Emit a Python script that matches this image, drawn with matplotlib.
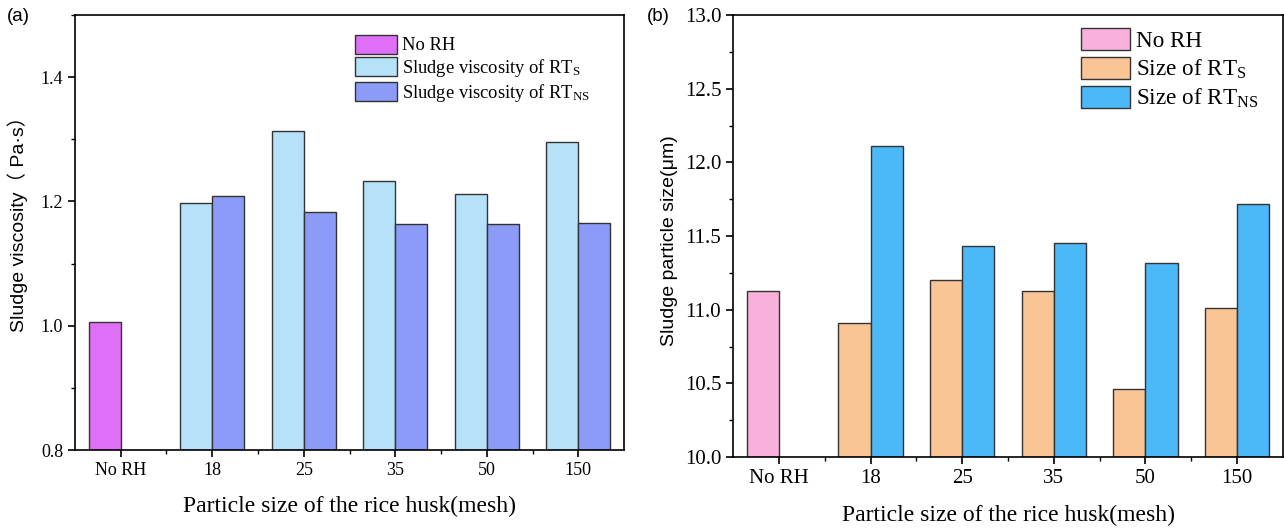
import matplotlib
matplotlib.use('Agg')
import matplotlib.pyplot as plt
import numpy as np
from matplotlib.ticker import MultipleLocator, FixedLocator

plt.rcParams['font.family'] = ['Liberation Serif', 'Noto Sans CJK SC', 'DejaVu Sans']
plt.rcParams['mathtext.fontset'] = 'custom'
plt.rcParams['mathtext.rm'] = 'Liberation Serif'
plt.rcParams['mathtext.it'] = 'Liberation Serif:italic'

categories = ['No RH', '18', '25', '35', '50', '150']

# (a) sludge viscosity, Pa·s
visc_no_rh = 1.006
visc_rt_s = [1.198, 1.313, 1.233, 1.212, 1.296]
visc_rt_ns = [1.209, 1.183, 1.163, 1.164, 1.165]

# (b) sludge particle size, um
size_no_rh = 11.13
size_rt_s = [10.91, 11.20, 11.13, 10.46, 11.01]
size_rt_ns = [12.11, 11.43, 11.45, 11.32, 11.72]

W = 0.35
SANS = ['Liberation Sans', 'Noto Sans CJK SC', 'DejaVu Sans']


def draw_panel(ax, no_rh, rt_s, rt_ns, colors, labels, ylim, major, ylabel,
               fs_tick, fs_leg, leg_pos, hlen, hhei, lspace, ylab_y):
    x = np.arange(len(categories))
    bottom = ylim[0]
    ax.bar(0 - W / 2, no_rh - bottom, W, bottom=bottom, color=colors[0],
           edgecolor='#333333', linewidth=1.0, label=labels[0])
    ax.bar(x[1:] - W / 2, np.array(rt_s) - bottom, W, bottom=bottom, color=colors[1],
           edgecolor='#333333', linewidth=1.0, label=labels[1])
    ax.bar(x[1:] + W / 2, np.array(rt_ns) - bottom, W, bottom=bottom, color=colors[2],
           edgecolor='#333333', linewidth=1.0, label=labels[2])
    ax.set_xlim(-0.5, 5.5)
    ax.set_ylim(*ylim)
    ax.set_xticks(x)
    ax.set_xticklabels(categories)
    ax.xaxis.set_minor_locator(FixedLocator(x[:-1] + 0.5))
    ax.yaxis.set_major_locator(MultipleLocator(major))
    ax.yaxis.set_minor_locator(MultipleLocator(major / 2))
    ax.tick_params(direction='out', length=5, width=1.2, labelsize=fs_tick)
    ax.tick_params(which='minor', direction='out', length=3, width=1.0)
    for s in ax.spines.values():
        s.set_linewidth(1.2)
    ax.set_xlabel('Particle size of the rice husk(mesh)', fontsize=17, labelpad=12)
    ax.set_ylabel(ylabel, fontsize=14, family=SANS)
    ax.yaxis.set_label_coords(-0.085 if fs_tick < 14 else -0.1, ylab_y)
    ax.legend(loc='upper left', bbox_to_anchor=leg_pos, frameon=False, fontsize=fs_leg,
              handlelength=hlen, handleheight=hhei, handletextpad=0.25, labelspacing=lspace,
              borderaxespad=0, borderpad=0)


fig = plt.figure(figsize=(12.84, 5.29), dpi=100)
ax1 = fig.add_axes([0.0584, 0.1493, 0.4276, 0.8223])
ax2 = fig.add_axes([0.5709, 0.1361, 0.4283, 0.8355])

draw_panel(ax1, visc_no_rh, visc_rt_s, visc_rt_ns,
           ['#DE6FF6', '#B5E2F8', '#8D9BF8'],
           ['No RH', r'Sludge viscosity of RT$_\mathrm{S}$', r'Sludge viscosity of RT$_\mathrm{NS}$'],
           (0.8, 1.5), 0.2, 'Sludge viscosity（ Pa·s）', 13, 13.3, (0.51, 0.955),
           2.3, 1.2, 0.15, 0.53)

draw_panel(ax2, size_no_rh, size_rt_s, size_rt_ns,
           ['#F9B1DB', '#F9C594', '#4BB8F8'],
           ['No RH', r'Size of RT$_\mathrm{S}$', r'Size of RT$_\mathrm{NS}$'],
           (10.0, 13.0), 0.5, 'Sludge particle size(μm)', 15, 16.7, (0.633, 0.97),
           2.1, 1.08, 0.2, 0.49)

fig.text(0.005, 0.985, '(a)', fontsize=13.5, family=SANS, va='top')
fig.text(0.504, 0.985, '(b)', fontsize=13.5, family=SANS, va='top')

fig.savefig('out.png', dpi=100)
